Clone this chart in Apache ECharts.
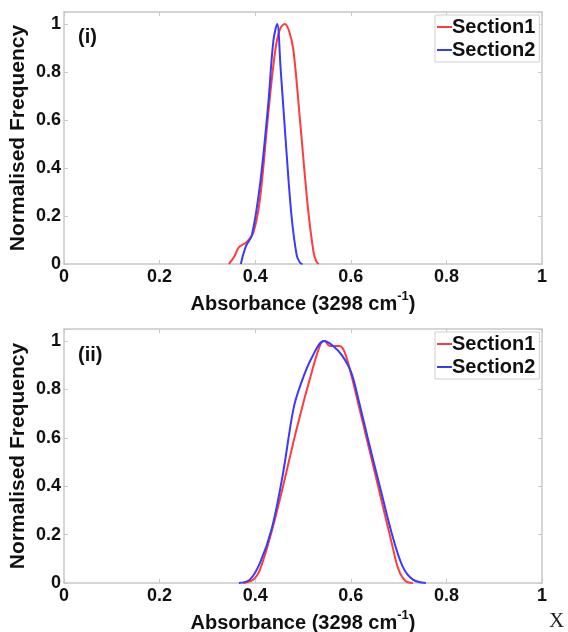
<!DOCTYPE html>
<html>
<head>
<meta charset="utf-8">
<script src="https://cdn.jsdelivr.net/npm/echarts@6/dist/echarts.min.js"></script>
<style>
html,body{margin:0;padding:0;background:#fff;}
#c{width:568px;height:632px;}
</style>
</head>
<body>
<div id="c"></div>
<script>
// ---- data ----
var xTicks = [0, 0.2, 0.4, 0.6, 0.8, 1];
var yTicks = [0, 0.2, 0.4, 0.6, 0.8, 1];

// Panel (i)
var p1Sec1X = [0.345, 0.356, 0.366, 0.381, 0.396, 0.41, 0.427, 0.442, 0.452, 0.462, 0.471, 0.48, 0.495, 0.51, 0.522, 0.528, 0.533];
var p1Sec1Y = [0, 0.03, 0.07, 0.09, 0.13, 0.27, 0.62, 0.89, 0.98, 1.0, 0.97, 0.89, 0.57, 0.24, 0.05, 0.01, 0];
var p1Sec2X = [0.37, 0.375, 0.381, 0.393, 0.41, 0.427, 0.438, 0.446, 0.453, 0.465, 0.476, 0.487, 0.494, 0.499];
var p1Sec2Y = [0, 0.04, 0.076, 0.12, 0.33, 0.66, 0.93, 1.0, 0.82, 0.48, 0.2, 0.035, 0.005, 0];

// Panel (ii)
var p2Sec1X = [0.374, 0.396, 0.41, 0.434, 0.457, 0.487, 0.518, 0.537, 0.545, 0.556, 0.575, 0.586, 0.601, 0.617, 0.639, 0.662, 0.685, 0.7, 0.715, 0.73];
var p2Sec1Y = [0, 0.014, 0.055, 0.21, 0.39, 0.64, 0.87, 0.99, 1.0, 0.98, 0.98, 0.96, 0.86, 0.73, 0.55, 0.36, 0.17, 0.055, 0.007, 0];
var p2Sec2X = [0.366, 0.389, 0.41, 0.434, 0.457, 0.48, 0.495, 0.518, 0.544, 0.563, 0.582, 0.601, 0.617, 0.639, 0.662, 0.685, 0.708, 0.73, 0.757];
var p2Sec2Y = [0, 0.014, 0.083, 0.22, 0.44, 0.72, 0.82, 0.93, 1.0, 0.98, 0.94, 0.87, 0.75, 0.57, 0.39, 0.21, 0.07, 0.014, 0];

var seriesNames = ['Section1', 'Section2'];
var panelLabels = ['(i)', '(ii)'];
var xName = 'Absorbance (3298 cm';
var yName = 'Normalised Frequency';

function zip(xs, ys) { return xs.map(function (x, i) { return [x, ys[i]]; }); }

var RED = '#ff3b3b', BLUE = '#3a3aff';
var AX = '#c8c8c8';
var FONT = 'Liberation Sans, Arial, sans-serif';

var grids = [
  { left: 64, top: 12, width: 478, height: 252, containLabel: false, outerBoundsMode: 'none' },
  { left: 64, top: 329, width: 478, height: 254, containLabel: false, outerBoundsMode: 'none' }
];

var xAxes = [], yAxes = [];
grids.forEach(function (g, i) {
  xAxes.push({
    type: 'value', gridIndex: i, min: 0, max: 1, interval: 0.2, position: 'bottom',
    axisLine: { onZero: false, lineStyle: { color: AX, width: 1.5 } },
    axisTick: { inside: true, length: 4, lineStyle: { color: AX } },
    splitLine: { show: false },
    axisLabel: { color: '#111', fontSize: 18, fontWeight: 'bold', fontFamily: FONT, margin: 4,
      formatter: function (v) { return xTicks.indexOf(+v.toFixed(2)) >= 0 ? String(+v.toFixed(2)) : ''; } },
    name: '{m|' + xName + '}{s|-1}{m|)}', nameLocation: 'middle', nameGap: 26,
    nameTextStyle: { rich: {
      m: { fontSize: 20, fontWeight: 'bold', fontFamily: FONT, color: '#111', lineHeight: 24, verticalAlign: 'bottom' },
      s: { fontSize: 13, fontWeight: 'bold', fontFamily: FONT, color: '#111', verticalAlign: 'top', lineHeight: 24 }
    } }
  });
  xAxes.push({
    type: 'value', gridIndex: i, min: 0, max: 1, interval: 0.2, position: 'top',
    axisLine: { onZero: false, lineStyle: { color: AX, width: 1.5 } },
    axisTick: { inside: true, length: 4, lineStyle: { color: AX } },
    axisLabel: { show: false }, splitLine: { show: false }
  });
  yAxes.push({
    type: 'value', gridIndex: i, min: 0, max: 1.05, interval: 0.2, position: 'left',
    axisLine: { show: true, onZero: false, lineStyle: { color: AX, width: 1.5 } },
    axisTick: { show: true, inside: true, length: 4, lineStyle: { color: AX } },
    splitLine: { show: false },
    axisLabel: { color: '#111', fontSize: 18, fontWeight: 'bold', fontFamily: FONT, margin: 3,
      formatter: function (v) { return yTicks.indexOf(+v.toFixed(2)) >= 0 ? String(+v.toFixed(2)) : ''; } },
    name: yName, nameLocation: 'middle', nameGap: 35, nameRotate: 90, nameMoveOverlap: false,
    nameTextStyle: { fontSize: 21, fontWeight: 'bold', fontFamily: FONT, color: '#111' }
  });
  yAxes.push({
    type: 'value', gridIndex: i, min: 0, max: 1.05, interval: 0.2, position: 'right',
    axisLine: { show: true, onZero: false, lineStyle: { color: AX, width: 1.5 } },
    axisTick: { show: true, inside: true, length: 4, lineStyle: { color: AX } },
    axisLabel: { show: false }, splitLine: { show: false }
  });
});

function line(name, data, color, gi) {
  return {
    name: name, type: 'line', xAxisIndex: gi * 2, yAxisIndex: gi * 2,
    data: data, smooth: 0.35, showSymbol: false, symbol: 'none',
    lineStyle: { color: color, width: 2 }, itemStyle: { color: color },
    animation: false, z: color === BLUE ? 3 : 2
  };
}

var legendCommon = {
  orient: 'vertical', left: 435, itemWidth: 15, itemHeight: 2, itemGap: 3,
  icon: 'rect', borderColor: '#cfcfcf', borderWidth: 1, backgroundColor: '#fff',
  padding: [2, 4, 2, 2],
  textStyle: { fontSize: 20, fontWeight: 'bold', fontFamily: FONT, color: '#111', padding: [0, 0, 0, -5] },
  data: seriesNames
};

var option = {
  animation: false,
  backgroundColor: '#fff',
  grid: grids,
  xAxis: xAxes,
  yAxis: yAxes,
  legend: [
    Object.assign({}, legendCommon, { top: 15 }),
    Object.assign({}, legendCommon, { top: 332 })
  ],
  title: [
    { text: panelLabels[0], left: 78, top: 27, padding: 0, textStyle: { fontSize: 20, fontWeight: 'bold', fontFamily: FONT, color: '#111' } },
    { text: panelLabels[1], left: 78, top: 345, padding: 0, textStyle: { fontSize: 20, fontWeight: 'bold', fontFamily: FONT, color: '#111' } }
  ],
  graphic: [
    { type: 'text', left: 549, top: 611, style: { text: 'X', fontSize: 21, fontFamily: 'Liberation Serif, Times New Roman, serif', fill: '#222' } }
  ],
  series: [
    line(seriesNames[0], zip(p1Sec1X, p1Sec1Y), RED, 0),
    line(seriesNames[1], zip(p1Sec2X, p1Sec2Y), BLUE, 0),
    line(seriesNames[0], zip(p2Sec1X, p2Sec1Y), RED, 1),
    line(seriesNames[1], zip(p2Sec2X, p2Sec2Y), BLUE, 1)
  ]
};

var chart = echarts.init(document.getElementById('c'), null, { renderer: 'canvas' });
chart.setOption(option);
</script>
</body>
</html>
